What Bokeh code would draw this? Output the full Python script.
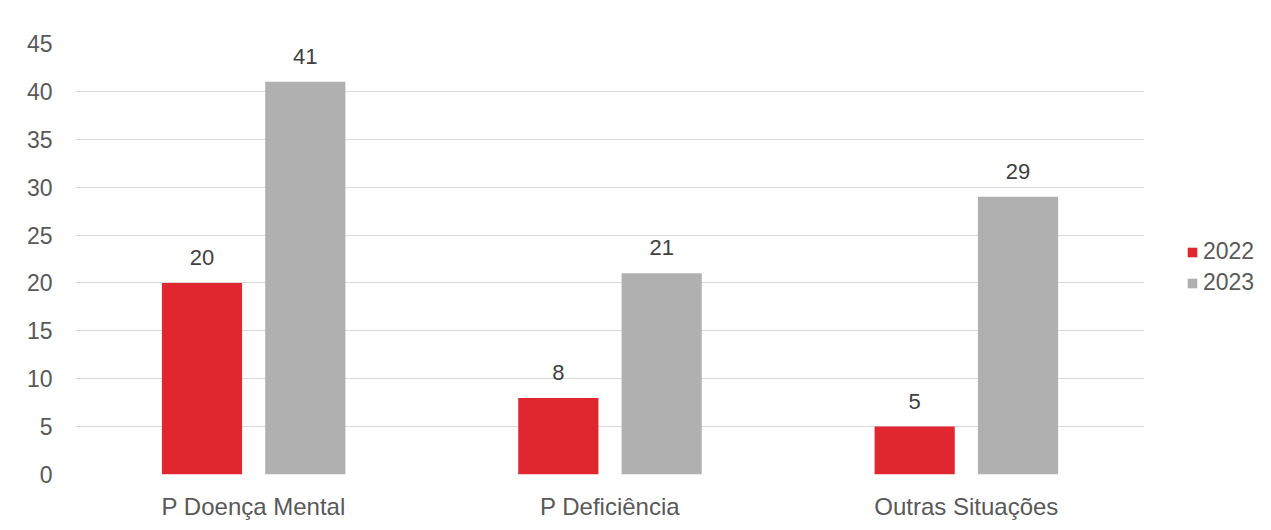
from bokeh.plotting import figure
from bokeh.models import ColumnDataSource, FactorRange, Range1d, Legend, LegendItem, LabelSet, SingleIntervalTicker
from bokeh.layouts import row
from bokeh.transform import dodge
from bokeh.core.properties import value
from bokeh.embed import file_html
from bokeh.resources import INLINE

categories = ["P Doença Mental", "P Deficiência", "Outras Situações"]
values_2022 = [20, 8, 5]
values_2023 = [41, 21, 29]
series_names = ["2022", "2023"]
series_colors = ["#E0262F", "#B0B0B0"]

src = ColumnDataSource(dict(cat=categories, v22=values_2022, v23=values_2023,
                            t22=[str(v) for v in values_2022], t23=[str(v) for v in values_2023]))

p = figure(x_range=FactorRange(*categories), y_range=Range1d(0, 45),
           width=1160, height=530, output_backend="svg", toolbar_location=None,
           min_border_left=75, min_border_top=43, min_border_bottom=56, min_border_right=16)
p.outline_line_color = None
p.background_fill_color = "white"

r1 = p.vbar(x=dodge("cat", -0.145, range=p.x_range), top="v22", width=0.225, source=src,
            fill_color=series_colors[0], line_color=None)
r2 = p.vbar(x=dodge("cat", 0.145, range=p.x_range), top="v23", width=0.225, source=src,
            fill_color=series_colors[1], line_color=None)

for col, txt, off in [("v22", "t22", -0.145), ("v23", "t23", 0.145)]:
    lab = LabelSet(x=dodge("cat", off, range=p.x_range), y=col, text=txt, source=src,
                   text_align="center", text_baseline="bottom", y_offset=18,
                   text_font_size="22px", text_color="#404040", text_font=value("Liberation Sans"))
    p.add_layout(lab)

p.yaxis.ticker = SingleIntervalTicker(interval=5)
p.ygrid.ticker = SingleIntervalTicker(interval=5)
p.xgrid.grid_line_color = None
p.ygrid.grid_line_color = "#d9d9d9"
for ax in [p.xaxis[0], p.yaxis[0]]:
    ax.axis_line_color = None
    ax.major_tick_line_color = None
    ax.minor_tick_line_color = None
    ax.major_label_text_color = "#595959"
    ax.major_label_text_font = "Liberation Sans"
p.yaxis.major_label_text_font_size = "23px"
p.xaxis.major_label_text_font_size = "24px"
p.yaxis.major_label_standoff = 17
p.xaxis.major_label_standoff = 12

# legend panel (separate small figure holding only the legend)
q = figure(width=111, height=530, x_range=Range1d(0, 1), y_range=Range1d(0, 1),
           output_backend="svg", toolbar_location=None,
           min_border_left=0, min_border_right=0, min_border_top=0, min_border_bottom=0)
q.axis.visible = False
q.grid.visible = False
q.outline_line_color = None
proxy = ColumnDataSource(dict(x=[0], top=[0]))
d1 = q.vbar(x="x", top="top", width=0.0, source=proxy, fill_color=series_colors[0], line_color=None)
d2 = q.vbar(x="x", top="top", width=0.0, source=proxy, fill_color=series_colors[1], line_color=None)
legend = Legend(items=[LegendItem(label=series_names[0], renderers=[d1]),
                       LegendItem(label=series_names[1], renderers=[d2])],
                location=(26, 178), border_line_color=None, background_fill_alpha=0,
                label_text_font_size="23px", label_text_color="#595959", label_text_font="Liberation Sans",
                glyph_width=12, glyph_height=12, spacing=4, label_standoff=5, margin=0, padding=0)
legend.label_height = 24
q.add_layout(legend, "center")

layout = row(p, q)
open("out.html", "w").write(file_html(layout, INLINE))
